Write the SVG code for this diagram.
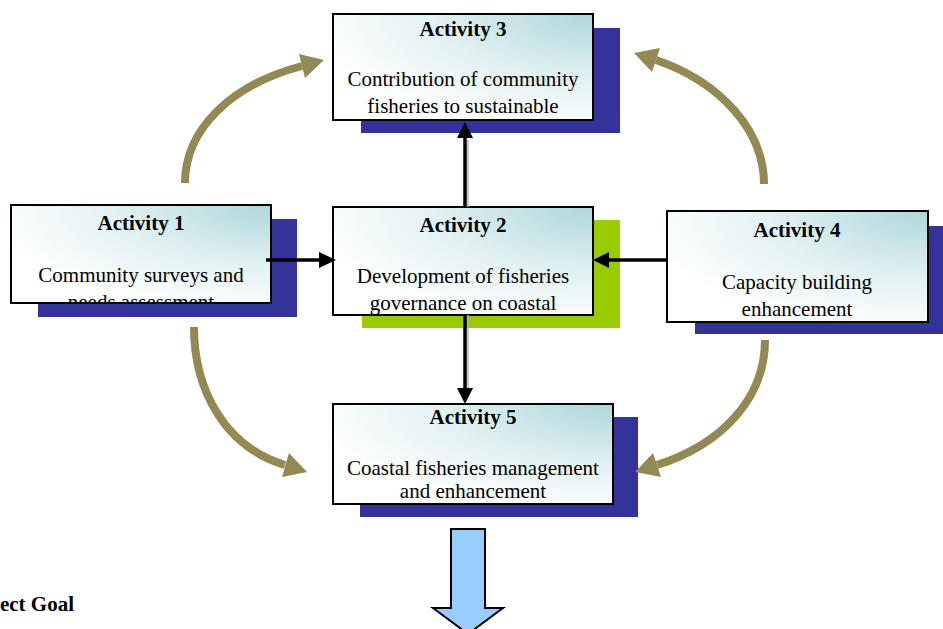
<svg xmlns="http://www.w3.org/2000/svg" width="943" height="629" viewBox="0 0 943 629">
<style>
.box{fill:url(#bg);stroke:#000;stroke-width:2}
.sh{fill:#333399}
.gr{fill:#99cc00}
.t{font-family:"Liberation Serif","Times New Roman",serif;font-size:21px;fill:#000;text-anchor:middle}
.b{font-weight:bold}
.blk{stroke:#000;stroke-width:3.5;fill:none}
.gry{stroke:#b5b5b5;stroke-width:1.5;fill:none}
.ol{stroke:#938953;stroke-width:8;fill:none}
.olh{fill:#938953}
</style>
<defs>
<radialGradient id="bg" cx="1" cy="0" r="1.1">
<stop offset="0" stop-color="#aed7db"/>
<stop offset="0.55" stop-color="#e2f1f2"/>
<stop offset="1" stop-color="#ffffff"/>
</radialGradient>
<clipPath id="c1"><rect x="11" y="205" width="260" height="98"/></clipPath>
</defs>
<g id="activity3">
<rect class="sh" x="361" y="28" width="259" height="105"/>
<rect class="box" x="333" y="14" width="260" height="106"/>
<text class="t b" x="463" y="36">Activity 3</text>
<text class="t" x="463" y="86">Contribution of community</text>
<text class="t" x="463" y="113">fisheries to sustainable</text>
</g>
<g id="activity1">
<rect class="sh" x="38" y="219" width="259" height="98"/>
<rect class="box" x="11" y="205" width="260" height="98"/>
<text class="t b" x="141" y="230">Activity 1</text>
<g clip-path="url(#c1)">
<text class="t" x="141" y="282">Community surveys and</text>
<text class="t" x="141" y="309">needs assessment</text>
</g>
</g>
<g id="activity2">
<rect class="gr" x="362" y="220" width="258" height="108"/>
<rect class="box" x="333" y="207" width="260" height="108"/>
<text class="t b" x="463" y="232">Activity 2</text>
<text class="t" x="463" y="283">Development of fisheries</text>
<text class="t" x="463" y="310">governance on coastal</text>
</g>
<g id="activity4">
<rect class="sh" x="695" y="226" width="248" height="108"/>
<rect class="box" x="667" y="211" width="261" height="111"/>
<text class="t b" x="797" y="237">Activity 4</text>
<text class="t" x="797" y="289">Capacity building</text>
<text class="t" x="797" y="316">enhancement</text>
</g>
<g id="activity5">
<rect class="sh" x="360" y="417" width="278" height="100"/>
<rect class="box" x="333" y="404" width="280" height="100"/>
<text class="t b" x="473" y="424">Activity 5</text>
<text class="t" x="473" y="475">Coastal fisheries management</text>
<text class="t" x="473" y="498">and enhancement</text>
</g>
<g id="goal">
<text class="t b" x="74" y="611" style="text-anchor:end">ect Goal</text>
<path d="M451,529 H485 V608 H503 L468,634 L433,608 H451 Z" fill="#99ccff" stroke="#000" stroke-width="2"/>
</g>
<g id="connectors">
<line class="blk" x1="266" y1="260" x2="320" y2="260"/>
<polygon points="336,260 319,252 319,268" fill="#000"/>
<line class="blk" x1="667" y1="260" x2="606" y2="260"/>
<polygon points="593,260 609,252 609,268" fill="#000"/>
<line class="gry" x1="468" y1="207" x2="468" y2="140"/>
<line class="blk" x1="465" y1="207" x2="465" y2="136"/>
<polygon points="465,122 457,138 473,138" fill="#000"/>
<line class="gry" x1="468" y1="315" x2="468" y2="390"/>
<line class="blk" x1="465" y1="315" x2="465" y2="390"/>
<polygon points="465,404 457,388 473,388" fill="#000"/>
<path class="ol" d="M185,183 C185,130 230,85 302,66"/>
<polygon class="olh" points="324,60 305,78 299,54"/>
<path class="ol" d="M764,184 C764,130 720,82 656,60"/>
<polygon class="olh" points="634,53 660,48 652,72"/>
<path class="ol" d="M194,327 C194,390 225,447 285,465"/>
<polygon class="olh" points="307,472 282,477 289,453"/>
<path class="ol" d="M765,340 C765,400 720,445 657,465"/>
<polygon class="olh" points="635,472 661,477 653,453"/>
</g>
</svg>
